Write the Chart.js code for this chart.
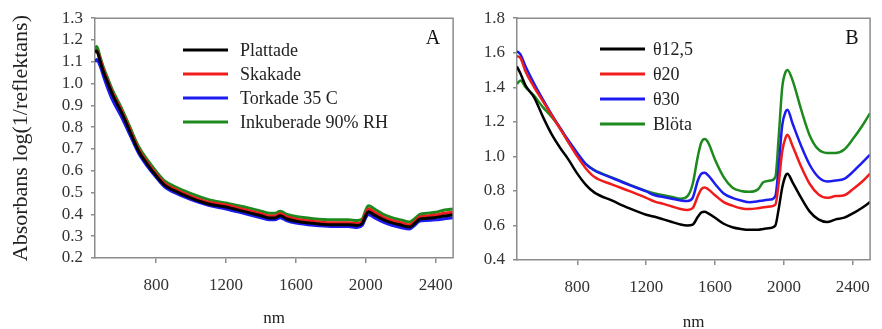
<!DOCTYPE html>
<html>
<head>
<meta charset="utf-8">
<script src="https://cdn.jsdelivr.net/npm/chart.js@4.4.0/dist/chart.umd.min.js"></script>
<style>
    body { margin: 0; background: #fff; }
    #wrap { position: relative; width: 882px; height: 329px; }
    #chartA { position: absolute; left: 0; top: 0; }
    #chartB { position: absolute; left: 462px; top: 0; }
</style>
</head>
<body>
<div id="wrap">
    <canvas id="chartA" width="465" height="329"></canvas>
    <canvas id="chartB" width="420" height="329"></canvas>
</div>
<script>
// ---- data, panel A ----
const wavelengthsA = [450, 460, 480, 500, 520, 550, 600, 650, 700, 750, 800, 850, 900, 1000, 1100, 1200, 1300, 1400, 1450, 1480,
    1510, 1550, 1600, 1700, 1800, 1900, 1950, 1980, 2000, 2015, 2050, 2100, 2150, 2200, 2250, 2280, 2310, 2350, 2400, 2450, 2500];
const plattade = [1.15, 1.15, 1.10, 1.05, 1.01, 0.95, 0.87, 0.78, 0.69, 0.63, 0.577, 0.533, 0.51, 0.475, 0.448, 0.434, 0.414, 0.394, 0.384, 0.384,
    0.394, 0.379, 0.369, 0.359, 0.353, 0.353, 0.349, 0.359, 0.395, 0.412, 0.397, 0.376, 0.361, 0.351, 0.342, 0.358, 0.379, 0.382, 0.386, 0.393, 0.398];
const skakade = [1.14, 1.15, 1.11, 1.06, 1.018, 0.958, 0.878, 0.788, 0.698, 0.638, 0.585, 0.541, 0.518, 0.483, 0.456, 0.443, 0.423, 0.403, 0.393, 0.393,
    0.403, 0.388, 0.378, 0.368, 0.362, 0.362, 0.358, 0.368, 0.405, 0.425, 0.41, 0.387, 0.372, 0.362, 0.352, 0.367, 0.388, 0.392, 0.397, 0.405, 0.41];
const torkade = [1.10, 1.11, 1.08, 1.03, 0.985, 0.925, 0.85, 0.765, 0.68, 0.62, 0.57, 0.525, 0.502, 0.468, 0.442, 0.425, 0.405, 0.385, 0.375, 0.375,
    0.385, 0.37, 0.36, 0.35, 0.345, 0.345, 0.34, 0.35, 0.385, 0.40, 0.385, 0.365, 0.35, 0.34, 0.333, 0.35, 0.37, 0.372, 0.375, 0.38, 0.385];
const inkuberade = [1.16, 1.17, 1.12, 1.07, 1.03, 0.97, 0.89, 0.80, 0.71, 0.65, 0.597, 0.553, 0.53, 0.495, 0.468, 0.452, 0.435, 0.415, 0.405, 0.405,
    0.415, 0.40, 0.39, 0.38, 0.375, 0.375, 0.372, 0.38, 0.42, 0.44, 0.425, 0.40, 0.385, 0.375, 0.365, 0.38, 0.40, 0.405, 0.41, 0.42, 0.425];
const seriesNamesA = ['Plattade', 'Skakade', 'Torkade 35 C', 'Inkuberade 90% RH'];

// ---- data, panel B ----
const wavelengthsB = [450, 470, 500, 550, 600, 650, 700, 750, 800, 850, 900, 1000, 1100, 1200, 1250, 1300, 1350, 1400, 1440, 1470,
    1500, 1520, 1540, 1560, 1600, 1650, 1700, 1750, 1800, 1850, 1880, 1920, 1950, 1970, 1990, 2010, 2020, 2050, 2100, 2150,
    2200, 2250, 2300, 2350, 2400, 2450, 2500];
const theta125 = [1.52, 1.48, 1.41, 1.34, 1.23, 1.13, 1.05, 0.98, 0.90, 0.835, 0.79, 0.745, 0.70, 0.662, 0.65, 0.635, 0.62, 0.605, 0.60, 0.605,
    0.65, 0.675, 0.68, 0.67, 0.645, 0.61, 0.59, 0.58, 0.575, 0.575, 0.58, 0.585, 0.60, 0.70, 0.82, 0.89, 0.90, 0.85, 0.76, 0.68,
    0.635, 0.62, 0.635, 0.645, 0.67, 0.70, 0.735];
const theta20 = [1.58, 1.57, 1.49, 1.40, 1.32, 1.24, 1.16, 1.08, 1.00, 0.93, 0.88, 0.838, 0.80, 0.76, 0.738, 0.725, 0.71, 0.695, 0.69, 0.70,
    0.77, 0.81, 0.82, 0.81, 0.775, 0.735, 0.715, 0.70, 0.695, 0.70, 0.705, 0.71, 0.72, 0.85, 1.03, 1.11, 1.125, 1.06, 0.94, 0.84,
    0.78, 0.76, 0.77, 0.775, 0.81, 0.85, 0.90];
const theta30 = [1.61, 1.59, 1.52, 1.42, 1.33, 1.245, 1.165, 1.09, 1.02, 0.955, 0.918, 0.876, 0.835, 0.797, 0.775, 0.765, 0.755, 0.745, 0.742, 0.76,
    0.86, 0.90, 0.905, 0.89, 0.84, 0.785, 0.76, 0.745, 0.735, 0.74, 0.745, 0.75, 0.77, 0.95, 1.18, 1.26, 1.27, 1.19, 1.06, 0.95,
    0.88, 0.855, 0.86, 0.87, 0.91, 0.96, 1.01];
const blota = [1.42, 1.44, 1.40, 1.35, 1.285, 1.23, 1.165, 1.08, 1.01, 0.955, 0.92, 0.878, 0.838, 0.80, 0.785, 0.775, 0.765, 0.755, 0.77, 0.84,
    1.00, 1.08, 1.10, 1.08, 0.98, 0.88, 0.82, 0.80, 0.795, 0.81, 0.85, 0.86, 0.88, 1.12, 1.40, 1.49, 1.50, 1.44, 1.27, 1.12,
    1.04, 1.02, 1.02, 1.04, 1.10, 1.17, 1.25];
const seriesNamesB = ['\u03b812,5', '\u03b820', '\u03b830', 'Bl\u00f6ta'];

const xTickValues = [800, 1200, 1600, 2000, 2400];
const seriesColors = ['#000000', '#f01c1c', '#1c1cf0', '#1e8a1e'];

const SERIF = '"Liberation Serif", "Times New Roman", serif';
const AXIS_GREY = '#8c8c8c';
const TEXT_COL = '#333333';

function toPoints(xs, ys) {
    return xs.map((x, i) => ({ x: x, y: ys[i] }));
}

function makeDatasets(xs, seriesList, names, width) {
    return seriesList.map((ys, i) => ({
        label: names[i],
        data: toPoints(xs, ys),
        borderColor: seriesColors[i],
        backgroundColor: seriesColors[i],
        borderWidth: width,
        pointRadius: 0,
        tension: 0.4,
        cubicInterpolationMode: 'monotone',
        fill: false
    }));
}

// box, in-plot legend and panel letter
const panelDecor = {
    id: 'panelDecor',
    afterDatasetsDraw(chart, args, opts) {
        const ctx = chart.ctx;
        const a = chart.chartArea;
        ctx.save();
        ctx.strokeStyle = AXIS_GREY;
        ctx.lineWidth = 1.5;
        ctx.beginPath();
        ctx.moveTo(a.left, a.top);
        ctx.lineTo(a.right, a.top);
        ctx.lineTo(a.right, a.bottom);
        ctx.stroke();

        ctx.font = opts.fontSize + 'px ' + SERIF;
        ctx.textBaseline = 'middle';
        ctx.textAlign = 'left';
        chart.data.datasets.forEach((ds, i) => {
            const y = opts.legendY + i * opts.legendStep;
            ctx.strokeStyle = ds.borderColor;
            ctx.lineWidth = 3;
            ctx.beginPath();
            ctx.moveTo(opts.legendX, y);
            ctx.lineTo(opts.legendX + opts.lineLen, y);
            ctx.stroke();
            ctx.fillStyle = '#222';
            ctx.fillText(ds.label, opts.legendX + opts.lineLen + opts.gap, y + 1);
        });

        ctx.font = opts.letterSize + 'px ' + SERIF;
        ctx.textAlign = 'center';
        ctx.fillStyle = '#111';
        ctx.fillText(opts.letter, opts.letterX, opts.letterY);
        ctx.restore();
    }
};

function makeOptions(cfg) {
    const tickFont = { family: SERIF, size: 17 };
    return {
        responsive: false,
        animation: false,
        layout: { padding: cfg.padding },
        plugins: {
            legend: { display: false },
            tooltip: { enabled: false },
            panelDecor: cfg.decor
        },
        scales: {
            x: {
                type: 'linear',
                min: 450,
                max: 2500,
                afterBuildTicks: s => { s.ticks = xTickValues.map(v => ({ value: v })); },
                afterFit: s => { s.height = cfg.xHeight; },
                ticks: { font: tickFont, color: TEXT_COL, padding: 12, maxRotation: 0, autoSkip: false, callback: v => String(v) },
                grid: { drawOnChartArea: false, tickLength: 5, color: AXIS_GREY, lineWidth: 1.5 },
                border: { color: AXIS_GREY, width: 1.5 },
                title: { display: true, text: 'nm', font: { family: SERIF, size: 17 }, color: '#222', padding: cfg.xTitlePad }
            },
            y: {
                min: cfg.yMin,
                max: cfg.yMax,
                afterFit: s => { s.width = cfg.yWidth; },
                ticks: {
                    stepSize: cfg.yStep,
                    font: tickFont,
                    color: TEXT_COL,
                    padding: 8,
                    autoSkip: false,
                    callback: v => Number(v).toFixed(1)
                },
                grid: { drawOnChartArea: false, tickLength: 4, color: AXIS_GREY, lineWidth: 1.5 },
                border: { color: AXIS_GREY, width: 1.5 },
                title: cfg.yTitle
            }
        }
    };
}

new Chart(document.getElementById('chartA'), {
    type: 'line',
    data: { datasets: makeDatasets(wavelengthsA, [plattade, skakade, torkade, inkuberade], seriesNamesA, 3) },
    options: makeOptions({
        padding: { top: 13, right: 7, left: 0, bottom: 0 },
        xHeight: 71,
        yWidth: 95,
        yMin: 0.2, yMax: 1.3, yStep: 0.1,
        xTitlePad: { top: 0, bottom: 0 },
        yTitle: { display: true, text: 'Absorbans log(1/reflektans)', font: { family: SERIF, size: 22 }, color: '#222', padding: { top: 8, bottom: 0 } },
        decor: { legendX: 183, legendY: 50, legendStep: 24, lineLen: 45, gap: 12, fontSize: 18, letter: 'A', letterX: 433, letterY: 39, letterSize: 20 }
    }),
    plugins: [panelDecor]
});

new Chart(document.getElementById('chartB'), {
    type: 'line',
    data: { datasets: makeDatasets(wavelengthsB, [theta125, theta20, theta30, blota], seriesNamesB, 2.5) },
    options: makeOptions({
        padding: { top: 15, right: 3, left: 0, bottom: 0 },
        xHeight: 69,
        yWidth: 55,
        yMin: 0.4, yMax: 1.8, yStep: 0.2,
        xTitlePad: { top: 0, bottom: -4 },
        yTitle: { display: false },
        decor: { legendX: 138, legendY: 49, legendStep: 25, lineLen: 45, gap: 8, fontSize: 18, letter: 'B', letterX: 390, letterY: 39, letterSize: 20 }
    }),
    plugins: [panelDecor]
});
</script>
</body>
</html>
